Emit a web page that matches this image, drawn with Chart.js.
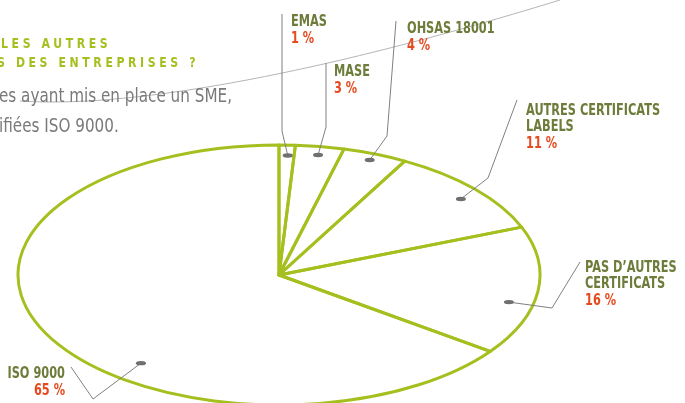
<!DOCTYPE html>
<html>
<head>
<meta charset="utf-8">
<script src="https://cdn.jsdelivr.net/npm/chart.js@4.4.1/dist/chart.umd.min.js"></script>
<style>
  html, body { margin: 0; padding: 0; background: #fff; }
  #wrap { width: 685px; height: 403px; position: relative; overflow: hidden; }
</style>
</head>
<body>
<div id="wrap"><canvas id="c" width="685" height="403"></canvas></div>
<script>
const labels = ['EMAS', 'MASE', 'OHSAS 18001', 'AUTRES CERTIFICATS\nLABELS', 'PAS D\u2019AUTRES\nCERTIFICATS', 'ISO 9000'];
const shares = [1, 3, 4, 11, 16, 65];
const titleLines = ['LES AUTRES', 'S DES ENTREPRISES ?'];
const introLines = ['es ayant mis en place un SME,', 'ifi\u00e9es ISO 9000.'];

const GREEN = '#a6bf1f', OLIVE = '#6d7c3a', RED = '#e64a1f', GREY = '#808080';
const FONT = '"DejaVu Sans Condensed", "Liberation Sans", sans-serif';
const SQUASH = 130 / 261;
// where the dot sits inside each slice (angle fraction, radius fraction), leader bends and text anchor
const callouts = [
  { f: 0.58, r: 0.92, path: [[282, 131], [282, 14]], tx: 291, ty: 26, align: 'left' },
  { f: 0.52, r: 0.935, path: [[326, 127], [326, 63]], tx: 334, ty: 76, align: 'left' },
  { f: 0.49, r: 0.95, path: [[387, 136], [396, 21]], tx: 407, ty: 33, align: 'left' },
  { f: 0.535, r: 0.91, path: [[488, 178], [517, 100]], tx: 526, ty: 115, align: 'left' },
  { f: 0.606, r: 0.905, path: [[552, 308], [580, 262]], tx: 585, ty: 272, align: 'left' },
  { f: 0.393, r: 0.86, path: [[93, 399], [71, 367]], tx: 65, ty: 378, align: 'right' },
];

function narrowText(ctx, s, x, y, sx) {
  ctx.save(); ctx.translate(x, y); ctx.scale(sx, 1); ctx.fillText(s, 0, 0); ctx.restore();
}

const ellipsePie = {
  id: 'ellipsePie',
  beforeDraw(chart) {
    const ctx = chart.ctx;
    ctx.save();
    // decorative thin curve + intro text
    ctx.strokeStyle = '#b5b5b5'; ctx.lineWidth = 1;
    ctx.beginPath(); ctx.moveTo(20, 101); ctx.bezierCurveTo(120, 108, 300, 80, 560, 0); ctx.stroke();
    ctx.fillStyle = GREEN; ctx.font = 'bold 13.5px ' + FONT;
    ctx.letterSpacing = '4px'; ctx.textAlign = 'left'; ctx.textBaseline = 'alphabetic';
    narrowText(ctx, titleLines[0], 1, 48, 0.9);
    narrowText(ctx, titleLines[1], -3, 67, 0.9);
    ctx.letterSpacing = '0px';
    ctx.fillStyle = '#7a7a7a'; ctx.font = '19px ' + FONT;
    narrowText(ctx, introLines[0], -1, 102, 0.89);
    narrowText(ctx, introLines[1], -1, 132, 0.89);
    ctx.restore();
  },
  beforeDatasetsDraw(chart) {
    const arc = chart.getDatasetMeta(0).data[0];
    const ctx = chart.ctx;
    ctx.save();
    ctx.translate(arc.x, arc.y); ctx.scale(1, SQUASH); ctx.translate(-arc.x, -arc.y);
  },
  afterDatasetsDraw(chart) {
    const ctx = chart.ctx;
    ctx.restore();
    const arcs = chart.getDatasetMeta(0).data;
    ctx.save();
    ctx.strokeStyle = GREEN; ctx.lineWidth = 3; ctx.lineJoin = 'round';
    arcs.forEach(a => {
      const { x, y, startAngle, endAngle, outerRadius } = a.getProps(['x', 'y', 'startAngle', 'endAngle', 'outerRadius'], true);
      ctx.save();
      ctx.translate(x, y); ctx.scale(1, SQUASH);
      ctx.beginPath(); ctx.moveTo(0, 0); ctx.arc(0, 0, outerRadius, startAngle, endAngle); ctx.closePath();
      ctx.restore();
      ctx.stroke();
    });
    // callouts
    arcs.forEach((a, i) => {
      const c = callouts[i];
      const { x, y, startAngle, endAngle, outerRadius } = a.getProps(['x', 'y', 'startAngle', 'endAngle', 'outerRadius'], true);
      const ang = startAngle + (endAngle - startAngle) * c.f;
      const dx = x + Math.cos(ang) * outerRadius * c.r;
      const dy = y + Math.sin(ang) * outerRadius * c.r * SQUASH;
      ctx.strokeStyle = GREY; ctx.lineWidth = 1;
      ctx.beginPath(); ctx.moveTo(dx, dy);
      c.path.forEach(p => ctx.lineTo(p[0], p[1]));
      ctx.stroke();
      ctx.fillStyle = '#6f6f6f';
      ctx.beginPath(); ctx.ellipse(dx, dy, 5, 2.2, 0, 0, Math.PI * 2); ctx.fill();
      ctx.textAlign = c.align; ctx.textBaseline = 'alphabetic';
      ctx.font = 'bold 15px ' + FONT;
      const lines = chart.data.labels[i].split('\n');
      ctx.fillStyle = OLIVE;
      lines.forEach((l, k) => narrowText(ctx, l, c.tx, c.ty + k * 16, 0.84));
      ctx.fillStyle = RED;
      narrowText(ctx, shares[i] + ' %', c.tx, c.ty + lines.length * 16 + 1, 0.84);
    });
    ctx.restore();
  }
};

new Chart(document.getElementById('c'), {
  type: 'pie',
  data: { labels, datasets: [{ data: shares, backgroundColor: '#ffffff', borderWidth: 0, radius: 261 }] },
  options: {
    responsive: false, animation: false, events: [],
    layout: { padding: { left: 0, right: 127, top: 147, bottom: 0 } },
    plugins: { legend: { display: false }, tooltip: { enabled: false } },
  },
  plugins: [ellipsePie],
});
</script>
</body>
</html>
